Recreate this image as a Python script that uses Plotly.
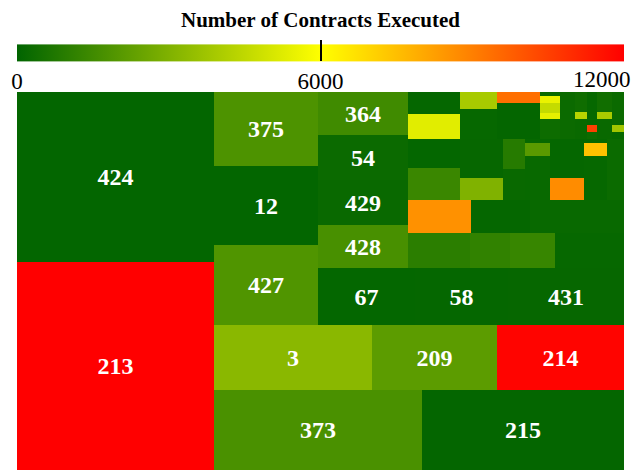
import plotly.graph_objects as go

# ---- hierarchy of groups (guillotine layout, alternated slice/dice) ----
group_ids = ["root", "L", "R", "RT", "row3", "row373", "C2", "B", "C", "row67",
             "C3", "D", "D1", "D2", "D3", "D4",
             "D1a", "D1b", "D1c", "D1d", "D1e", "D1f", "D1g", "D1h", "D1i",
             "D2a", "D2b", "D2c", "D2d", "D2e", "D2f"]
group_parents = ["", "root", "root", "R", "R", "R", "RT", "RT", "B", "B",
                 "C", "C", "D", "D", "D", "D",
                 "D1", "D1", "D1", "D1", "D1", "D1", "D1", "D1", "D1",
                 "D2", "D2", "D2", "D2", "D2", "D2"]

# ---- leaves: parent group, label, size, number of contracts executed ----
leaf_parent = ["L", "L",
               "C2", "C2", "C2",
               "C3", "C3", "C3", "C3",
               "row67", "row67", "row67",
               "row3", "row3", "row3",
               "row373", "row373",
               "D1a", "D1a", "D1b", "D1b", "D1c", "D1c",
               "D1d", "D1d", "D1d", "D1d", "D1d", "D1e",
               "D1f", "D1f", "D1f", "D1g", "D1g", "D1g",
               "D1h", "D1h", "D1h", "D1i", "D1i", "D1i",
               "D2a", "D2a", "D2b", "D2b", "D2c", "D2c",
               "D2d", "D2d", "D2d", "D2e", "D2e", "D2f", "D2f", "D2f", "D2",
               "D3", "D3", "D3",
               "D4", "D4", "D4", "D4"]
leaf_label = ["424", "213",
              "375", "12", "427",
              "364", "54", "429", "428",
              "67", "58", "431",
              "3", "209", "214",
              "373", "215"] + [""] * 46
leaf_size = [33490, 40976,
             7696, 8216, 8320,
             3870, 4050, 4050, 3870,
             5529, 5301, 6612,
             10270, 8125, 8255,
             16640, 16160,
             1144, 1300, 629, 1110, 473, 1548,
             80, 140, 200, 120, 400, 705,
             240, 84, 240, 330, 70, 70,
             300, 105, 300, 396, 84, 84,
             1508, 1664, 1677, 946, 660, 682,
             100, 325, 1100, 1326, 748, 92, 299, 1012, 1037,
             2079, 1947, 3102,
             2170, 1400, 1575, 2415]
leaf_contracts = [80, 12000,
                  1800, 60, 1880,
                  1500, 250, 200, 1700,
                  100, 110, 130,
                  3250, 2170, 11900,
                  1750, 90,
                  120, 5300, 3950, 150, 9400, 90,
                  200, 5500, 4600, 5400, 300, 250,
                  350, 4300, 200, 150, 10500, 300,
                  400, 4000, 200, 250, 3800, 150,
                  100, 1370, 130, 3000, 900, 200,
                  150, 2100, 180, 120, 8700, 150, 7450, 140, 260,
                  8600, 110, 180,
                  1000, 1150, 1300, 150]

cbar_ticks = [0, 6000, 12000]
cbar_ticktext = ["0", "6000", ""]
cbar_end_label = "12000"

leaf_ids = ["leaf%d" % i for i in range(len(leaf_size))]
ids = group_ids + leaf_ids
parents = group_parents + leaf_parent
text = [""] * len(group_ids) + leaf_label
values = [0] * len(group_ids) + leaf_size
colors = [0] * len(group_ids) + leaf_contracts

tick_font = dict(family="Liberation Serif", size=23, color="black")

fig = go.Figure(go.Treemap(
    ids=ids,
    labels=ids,
    parents=parents,
    values=values,
    text=text,
    branchvalues="remainder",
    sort=False,
    texttemplate="%{text}",
    textposition="middle center",
    textfont=dict(family="Liberation Serif", size=24, color="white", weight="bold"),
    tiling=dict(packing="slice-dice", pad=0),
    pathbar=dict(visible=False),
    hoverinfo="skip",
    marker=dict(
        colors=colors,
        colorscale=[[0, "rgb(0,100,0)"], [0.5, "rgb(255,255,0)"], [1, "rgb(255,0,0)"]],
        cmin=0, cmax=12000,
        depthfade=False,
        line=dict(width=0),
        pad=dict(t=0, l=0, r=0, b=0),
        showscale=True,
        colorbar=dict(
            orientation="h",
            x=0.5, xanchor="center",
            y=0.9365, yanchor="bottom", ypad=0, xpad=0,
            len=1, lenmode="fraction",
            thickness=17,
            outlinewidth=0,
            title=dict(text="<b>Number of Contracts Executed</b>", side="top",
                       font=dict(family="Liberation Serif", size=21, color="black")),
            tickvals=cbar_ticks, ticktext=cbar_ticktext,
            ticks="inside", ticklen=21, tickwidth=2, tickcolor="black",
            ticklabeloverflow="allow",
            tickfont=tick_font,
        ),
    ),
))

# label of the colour bar's end, kept inside the page
fig.add_annotation(
    text=cbar_end_label, xref="paper", yref="paper",
    x=1, xanchor="right", xshift=9,
    y=1.0, yanchor="bottom", yshift=-2,
    showarrow=False, font=tick_font,
)

# the page body adds an 8px offset, so the figure is sized/margined to compensate
fig.update_layout(
    width=636, height=462,
    margin=dict(l=9, r=20, t=84, b=0, autoexpand=False),
    paper_bgcolor="white",
)

fig.write_html("out.html")
